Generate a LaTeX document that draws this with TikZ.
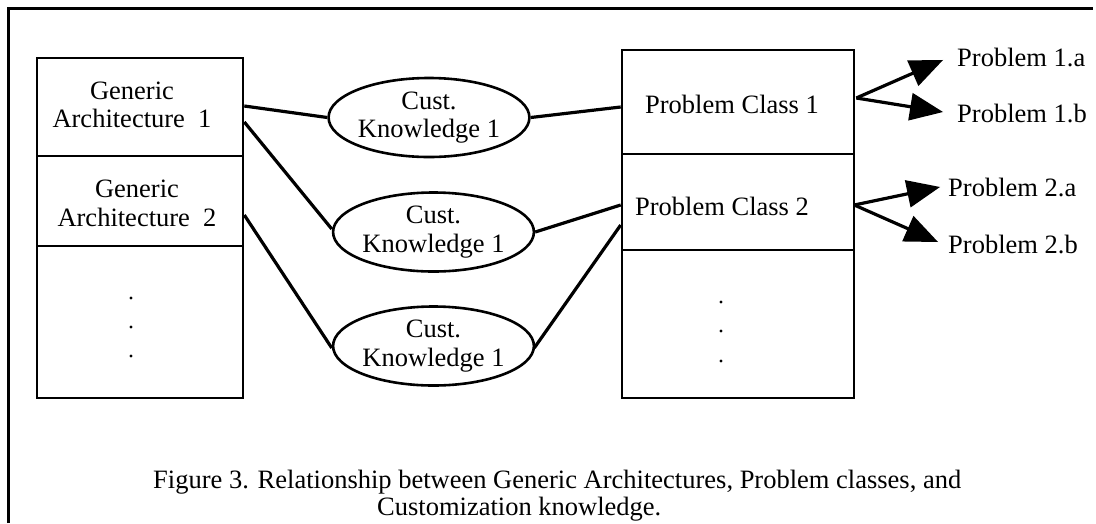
\documentclass[tikz,border=0pt]{standalone}
\usepackage{fontspec}
\setmainfont{Liberation Serif}
\usetikzlibrary{calc,shapes.geometric}
\begin{document}
\begin{tikzpicture}[x=1pt,y=-1pt,
  every node/.style={font=\fontsize{26.5}{28.5}\selectfont},
  cell/.style={draw,line width=2.6pt,inner sep=0pt,minimum width=#1},
  know/.style={draw,ellipse,line width=2.6pt,inner sep=0pt,
    minimum width=187pt,minimum height=79pt,align=center},
  lbl/.style={inner sep=0pt,align=center},
  link/.style={line width=3.2pt}]
\useasboundingbox (0,0) rectangle (1096,523);

% outer frame (left and top edges)
\draw[line width=3pt] (8,523) -- (8,8) -- (1093,8);

% stack of generic architectures
\node[cell=206pt,minimum height=98pt]  (ga1) at (140,107) {};
\node[cell=206pt,minimum height=90pt]  (ga2) at (140,201) {};
\node[cell=206pt,minimum height=152pt] (ga3) at (140,322) {};
\node[lbl] (ga1t) at (132,105) {Generic\\Architecture~ 1};
\node[lbl] (ga2t) at (137,203.5) {Generic\\Architecture~ 2};
\foreach \y in {298,327,356} \fill (131,\y) circle (1.6pt);

% stack of problem classes
\node[cell=232pt,minimum height=104pt] (pc1) at (738,102) {};
\node[cell=232pt,minimum height=96pt]  (pc2) at (738,202) {};
\node[cell=232pt,minimum height=148pt] (pc3) at (738,324) {};
\node[lbl] (pc1t) at (732,104) {Problem Class 1};
\node[lbl] (pc2t) at (722,206) {Problem Class 2};
\foreach \y in {302,331,361} \fill (721,\y) circle (1.6pt);

% customization knowledge
\node[know] (ck1) at (429,117.5) {Cust.\\Knowledge 1};
\node[know] (ck2) at (433.5,232) {Cust.\\Knowledge 1};
\node[know] (ck3) at (433.5,346) {Cust.\\Knowledge 1};

% links
\draw[link] ($(ga1.east)+(0,-1)$) -- (ck1.west);
\draw[link] ($(ga1.east)+(0,15)$) -- ($(ck2.west)+(0,-3)$);
\draw[link] ($(ga2.east)+(0,14)$) -- ($(ck3.west)+(0,2)$);
\draw[link] (ck1.east) -- ($(pc1.west)+(0,5)$);
\draw[link] (ck2.east) -- ($(pc2.west)+(0,3)$);
\draw[link] ($(ck3.east)+(-1,2)$) -- ($(pc2.west)+(0,23)$);

% problems
\node[lbl,anchor=base west] (p1a) at (957,66)  {Problem 1.a};
\node[lbl,anchor=base west] (p1b) at (957,122) {Problem 1.b};
\node[lbl,anchor=base west] (p2a) at (948,196) {Problem 2.a};
\node[lbl,anchor=base west] (p2b) at (948,253) {Problem 2.b};

% fan-out arrows: shaft plus solid triangular head
\coordinate (o1) at ($(pc1.east)+(1,-4)$);
\coordinate (o2) at ($(pc2.east)+(-1,3)$);
\coordinate (t1a) at ($(p1a.west)+(-14,3)$);
\coordinate (t1b) at ($(p1b.west)+(-14,-1)$);
\coordinate (t2a) at ($(p2a.west)+(-8,0)$);
\coordinate (t2b) at ($(p2b.west)+(-10,-2)$);
\foreach \o/\t in {o1/t1a,o1/t1b,o2/t2a,o2/t2b}{
  \coordinate (b) at ($(\t)!33pt!(\o)$);
  \draw[link] (\o) -- ($(\t)!28pt!(\o)$);
  \fill (\t) -- ($(b)!14pt!90:(\t)$) -- ($(b)!14pt!-90:(\t)$) -- cycle;
}

% caption
\node[lbl,anchor=base west] (cap1) at (153,488)
  {Figure 3. Relationship between Generic Architectures, Problem classes, and};
\node[lbl,anchor=base west] (cap2) at (377,515) {Customization knowledge.};
\end{tikzpicture}
\end{document}
